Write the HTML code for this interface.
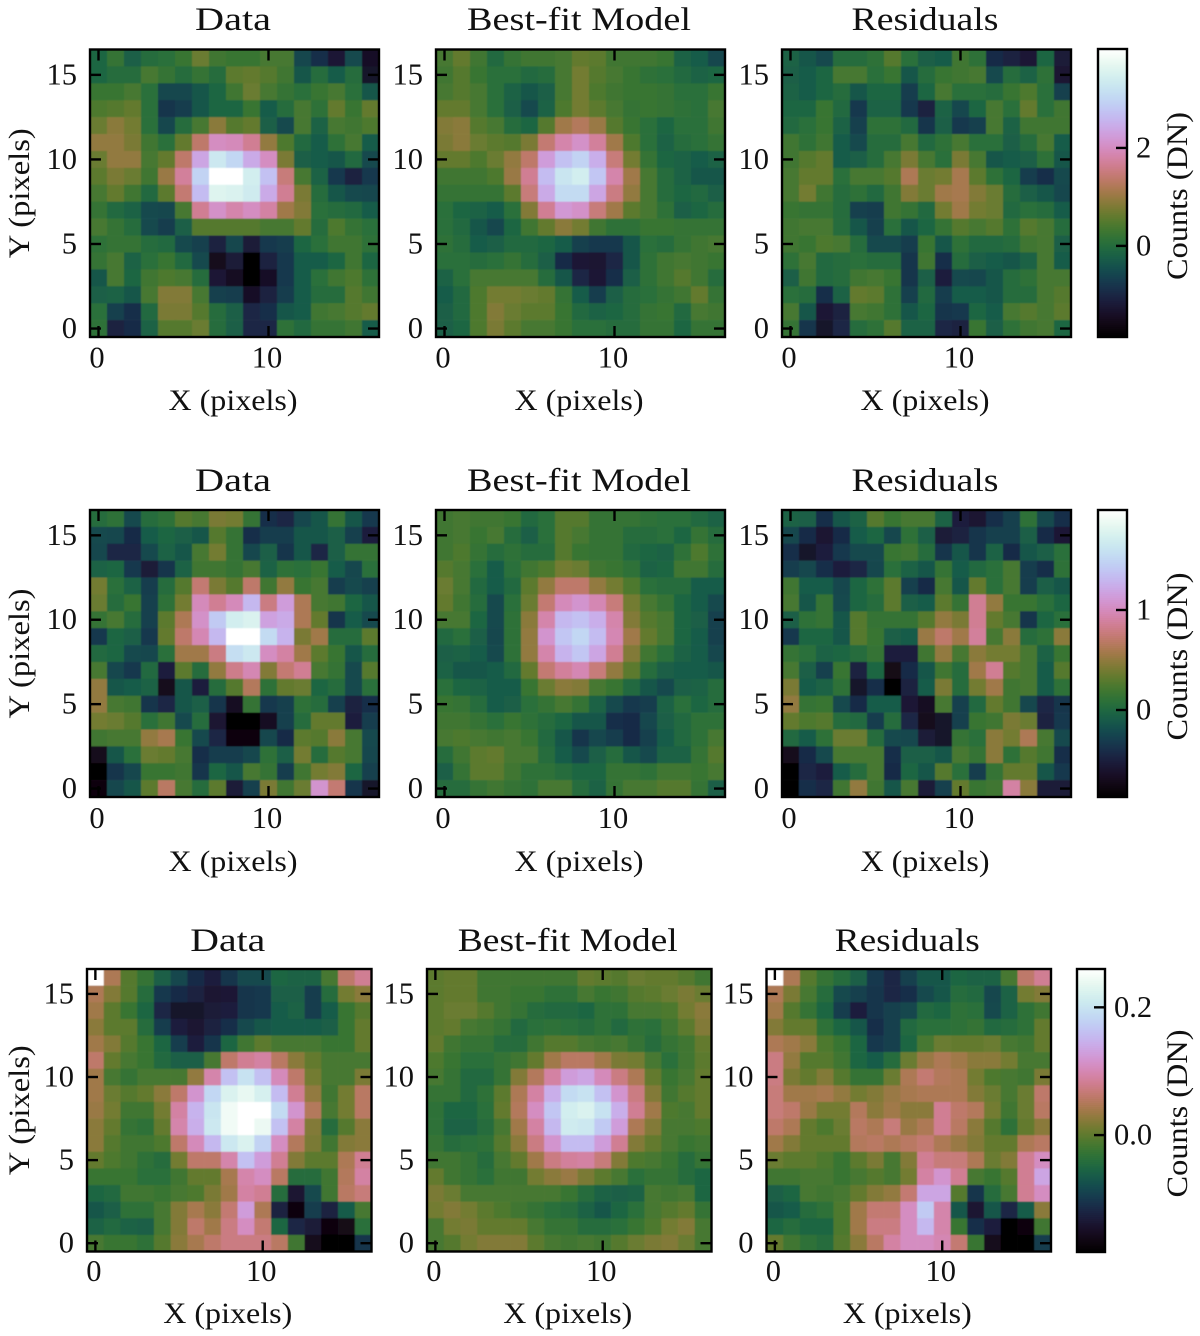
<!DOCTYPE html>
<html lang="en">
<head>
<meta charset="utf-8">
<title>Data, Best-fit Model and Residuals</title>
<style>
html,body{margin:0;padding:0;background:#fff;}
svg{display:block;}
text{font-family:"Liberation Serif",serif;fill:#111;}
</style>
</head>
<body>
<svg id="chart" xmlns="http://www.w3.org/2000/svg" width="1200" height="1336" viewBox="0 0 1200 1336">
<defs><filter id="soft" x="-2%" y="-2%" width="104%" height="104%"><feGaussianBlur stdDeviation="0.6"/></filter></defs>
</svg>
<script>
// Values are percent of the colour range of that row (0 = vmin, 100 = vmax). Rows are listed from y=16 down to y=0.
const dataRow1=[
[28,33,26,30,31,34,43,35,34,34,38,36,22,17,11,23,8],
[28,30,30,36,33,30,33,30,41,42,40,37,24,30,25,30,9],
[34,34,36,31,22,22,24,28,37,43,36,33,31,34,38,31,24],
[39,40,42,31,18,20,24,28,28,34,25,30,38,32,42,34,42],
[43,47,44,31,22,30,38,47,40,42,26,23,36,27,36,35,39],
[48,48,45,35,31,42,55,66,65,60,48,39,29,25,32,36,25],
[43,48,48,36,42,55,72,88,83,73,66,45,26,25,24,29,23],
[41,45,43,35,49,61,82,100,100,90,78,57,36,27,19,14,19],
[36,42,35,29,41,56,77,93,92,89,73,60,45,30,24,23,22],
[33,29,27,23,22,38,60,67,63,66,62,50,46,31,30,29,25],
[38,33,30,23,20,26,40,40,40,40,38,36,42,30,39,33,31],
[32,33,33,30,29,23,21,14,22,12,19,20,28,31,35,37,32],
[33,38,27,31,34,29,23,6,12,1,14,19,25,25,28,37,28],
[24,36,28,35,39,36,30,11,7,0,8,19,25,31,35,39,32],
[26,27,24,36,46,46,38,21,20,8,14,20,25,30,30,40,37],
[31,21,17,29,45,45,40,30,26,15,17,24,25,35,36,40,42],
[32,14,16,27,40,40,43,30,26,15,15,32,29,33,33,35,25]];
const modelRow1=[
[36,42,35,29,33,35,35,38,42,41,37,37,37,34,27,25,22],
[37,40,34,31,31,29,30,38,44,40,36,34,32,31,29,27,28],
[38,40,36,31,27,24,26,38,44,39,35,34,34,33,31,31,34],
[42,42,38,31,26,23,27,39,44,41,36,33,34,33,32,31,36],
[46,47,40,36,30,28,40,50,53,49,40,34,31,28,31,31,35],
[45,47,43,41,40,45,56,63,67,61,50,39,31,27,30,31,33],
[42,42,39,43,48,55,70,78,82,74,57,44,33,28,27,25,27],
[37,37,37,39,49,60,77,87,90,79,63,50,36,30,27,24,24],
[33,33,33,33,41,57,73,84,84,72,58,48,36,30,28,29,26],
[31,28,27,25,31,46,60,69,67,57,50,41,38,32,26,28,30],
[31,29,24,22,28,35,42,47,44,37,32,32,34,34,33,33,33],
[32,30,25,26,29,29,28,25,21,19,19,24,31,30,33,37,36],
[31,31,30,31,33,30,26,16,11,10,15,24,32,37,36,35,34],
[27,31,36,38,38,36,30,24,15,11,17,26,32,37,40,37,30],
[25,29,39,44,44,43,42,33,25,20,26,30,31,33,37,42,33],
[26,29,39,46,43,41,41,34,29,27,28,30,33,34,29,36,35],
[26,28,39,45,41,38,36,34,31,31,30,30,33,33,28,33,33]];
const residRow1=[
[27,24,23,30,30,32,40,31,26,25,35,32,16,14,11,28,12],
[26,25,28,36,36,31,34,24,30,34,35,36,23,30,27,32,10],
[27,25,28,30,24,28,28,20,28,36,31,31,30,34,39,31,21],
[28,28,34,29,19,27,27,19,14,27,22,28,36,31,42,31,37],
[29,31,34,27,21,32,32,29,18,26,19,21,36,27,37,37,37],
[35,32,35,25,23,30,30,36,29,32,36,31,31,26,30,36,25],
[35,40,42,25,26,30,36,45,36,31,45,38,24,25,26,32,24],
[36,42,42,31,36,36,40,52,43,44,51,41,32,28,20,17,23],
[36,44,37,30,32,29,37,46,43,50,51,46,43,30,26,24,22],
[34,33,33,30,21,20,35,33,29,44,50,44,43,29,31,30,25],
[37,36,36,30,24,21,31,24,28,33,40,38,40,32,40,36,30],
[35,34,39,36,30,23,23,20,34,24,32,29,29,30,37,36,26],
[32,38,29,30,31,30,30,18,35,17,30,26,25,24,27,36,25],
[26,37,29,30,35,36,34,18,26,13,23,22,24,30,32,38,36],
[31,30,17,27,42,41,32,21,29,20,25,25,24,30,30,36,40],
[36,24,11,14,36,37,32,24,28,18,19,28,25,36,40,36,41],
[33,18,9,15,30,32,40,27,27,15,14,34,26,32,37,36,28]];
const dataRow2=[
[30,32,23,30,32,40,38,45,44,33,17,15,22,24,33,24,19],
[23,22,16,25,28,26,24,40,33,17,20,20,24,24,26,21,13],
[22,15,15,23,27,24,36,44,33,22,26,18,24,15,26,33,33],
[27,28,19,12,18,27,37,37,33,38,27,32,31,34,25,22,31],
[44,31,27,20,30,40,56,45,40,55,37,48,34,38,20,23,21],
[43,30,34,21,32,44,65,60,65,76,58,70,52,38,35,28,24],
[33,36,30,21,41,52,67,80,90,92,71,73,52,42,18,25,23],
[19,28,26,19,42,55,64,76,100,100,84,75,45,50,30,30,41],
[29,28,23,22,31,50,50,58,85,88,66,62,50,41,34,24,30],
[38,22,19,29,13,41,30,48,59,64,46,56,60,38,33,23,40],
[48,24,25,27,6,24,13,30,40,53,32,42,43,28,30,23,31],
[48,36,35,18,15,24,26,18,7,33,19,21,32,30,21,14,17],
[44,43,40,31,35,23,30,10,0,1,7,21,30,42,42,13,20],
[35,36,38,48,51,34,23,15,2,2,22,16,41,40,47,36,23],
[6,24,31,43,42,38,17,20,20,22,32,26,44,30,40,38,22],
[0,18,22,34,34,37,18,28,24,38,33,20,35,44,46,28,21],
[3,22,24,41,54,36,30,41,12,21,45,37,43,68,56,18,9]];
const modelRow2=[
[35,36,35,35,34,29,31,40,40,33,33,33,32,31,31,29,27],
[37,36,34,36,30,26,31,40,36,33,33,30,30,31,28,33,30],
[37,39,33,30,32,30,30,40,34,33,33,29,28,27,32,39,32],
[40,38,31,25,31,35,39,44,43,37,34,32,27,28,35,35,30],
[43,38,29,25,29,41,48,55,55,48,44,39,31,30,30,25,25],
[42,37,30,23,31,43,56,65,68,64,57,44,36,33,28,25,23],
[38,36,28,23,32,47,63,76,78,74,63,46,40,36,28,26,21],
[29,31,26,22,32,48,68,79,83,77,64,50,42,36,28,25,21],
[26,27,25,23,32,48,63,75,79,72,60,46,37,31,27,25,22],
[27,24,24,25,29,42,56,61,64,57,48,41,30,26,25,25,24],
[31,28,27,25,25,34,43,47,46,38,34,29,24,23,26,27,30],
[34,33,30,25,26,31,33,36,33,27,23,19,20,27,31,28,30],
[35,37,33,31,34,32,30,28,24,24,17,16,22,26,29,32,32],
[36,39,36,37,38,34,29,24,18,22,20,16,21,25,29,32,36],
[30,37,41,42,38,36,30,25,23,26,30,24,23,27,27,33,40],
[26,33,41,41,35,32,32,30,28,28,33,33,32,35,35,34,36],
[30,30,33,37,33,32,36,38,30,27,33,36,38,40,40,33,26]];
const residRow2=[
[27,26,17,24,27,40,34,36,36,27,13,10,17,21,32,23,17],
[22,16,10,16,25,28,22,32,26,12,14,18,21,21,26,16,11],
[17,9,13,19,23,23,34,37,30,18,24,18,27,16,24,26,31],
[20,22,17,13,15,22,31,27,24,33,25,29,31,36,20,17,32],
[35,25,25,22,28,32,41,21,16,36,24,42,31,36,20,26,24],
[36,24,33,23,28,30,41,26,25,41,33,60,48,34,34,31,28],
[26,32,33,24,40,33,33,33,40,48,45,60,42,36,18,28,31],
[19,28,28,24,40,34,26,25,49,55,50,61,36,47,30,32,47],
[33,31,27,28,30,33,13,13,37,48,36,47,44,44,36,27,34],
[38,26,21,34,14,28,5,16,24,37,30,50,60,40,36,25,40],
[45,25,27,32,9,17,0,14,25,45,30,44,50,37,36,25,32],
[48,33,34,23,16,25,25,11,7,36,21,29,42,37,22,15,18],
[42,39,40,30,29,20,30,15,6,9,21,34,37,45,43,14,19],
[29,25,32,43,43,30,23,22,12,9,33,31,47,44,52,38,23],
[6,16,23,36,36,36,17,26,26,24,38,33,47,32,40,35,17],
[0,15,13,25,30,36,16,28,24,40,31,20,33,42,42,24,19],
[0,17,15,37,48,35,24,36,12,21,42,34,37,62,47,12,12]];
const dataRow3=[
[100,52,40,33,26,22,16,13,18,23,23,28,27,27,36,55,60],
[52,46,40,30,19,16,14,10,11,18,19,26,26,20,30,44,47],
[50,41,34,28,15,9,9,12,13,18,19,25,27,20,25,34,40],
[47,41,41,30,20,13,10,14,17,23,24,25,25,25,26,34,42],
[50,46,40,34,28,20,13,18,28,35,41,38,36,36,34,34,42],
[55,42,36,34,29,26,26,38,55,60,62,54,47,42,38,36,38],
[50,38,33,38,38,36,48,63,78,86,78,65,55,44,38,38,45],
[50,43,40,42,47,55,68,83,92,95,91,77,60,48,37,44,54],
[49,44,37,37,44,62,75,87,97,100,100,84,68,53,36,44,54],
[47,42,33,32,42,63,74,88,97,100,96,78,62,46,30,40,47],
[47,40,35,35,39,55,65,76,88,92,82,66,53,45,37,46,47],
[42,39,35,32,30,44,55,55,63,78,70,60,46,41,41,52,60],
[34,34,34,31,31,35,42,42,51,63,66,54,30,30,37,53,62],
[28,29,35,35,34,36,39,45,50,62,60,30,10,23,35,54,57],
[24,26,32,32,38,46,51,47,56,70,52,14,3,20,14,25,38],
[27,29,27,26,38,46,55,50,58,66,56,28,15,12,2,5,31],
[38,34,34,32,40,47,51,55,58,58,58,54,35,6,0,0,18]];
const modelRow3=[
[41,42,42,37,37,35,35,37,37,42,41,40,43,42,42,40,37],
[41,42,42,37,37,34,34,32,32,36,34,37,40,41,43,45,43],
[41,43,43,40,37,33,30,29,29,28,32,32,36,38,39,44,47],
[41,42,38,37,33,29,31,32,31,30,32,29,32,31,35,41,46],
[42,35,33,33,30,30,37,40,40,38,37,36,33,30,33,37,42],
[39,34,31,31,33,37,42,50,54,54,50,45,44,36,31,37,41],
[36,33,29,29,33,46,53,62,70,72,65,58,52,42,34,38,42],
[33,33,29,32,41,52,62,74,84,86,78,68,58,46,37,40,42],
[32,28,28,31,42,53,66,79,90,92,86,74,60,50,39,38,42],
[32,27,27,30,38,50,62,76,89,88,80,70,52,46,38,38,39],
[33,30,31,32,40,47,58,68,77,77,70,60,46,42,38,34,35],
[37,35,33,30,36,42,50,58,61,62,57,46,39,38,34,30,33],
[42,37,33,31,35,37,44,47,49,45,41,36,31,33,33,30,28],
[45,43,38,36,36,36,36,36,34,30,27,26,27,36,37,36,28],
[44,46,44,41,39,37,33,31,30,27,24,28,31,36,40,42,33],
[38,44,45,42,42,42,36,33,33,30,30,31,34,39,44,46,36],
[38,40,44,46,46,46,41,36,37,38,37,40,43,45,46,43,36]];
const residRow3=[
[100,52,40,33,30,26,19,15,21,24,24,28,27,27,36,55,60],
[52,45,38,30,23,21,18,15,17,23,24,30,29,22,27,44,46],
[50,40,33,28,20,13,18,21,22,29,28,32,31,23,27,32,37],
[46,42,42,32,28,24,17,21,29,31,31,32,33,29,30,32,42],
[52,50,47,39,34,28,19,21,28,38,43,42,42,43,38,37,42],
[58,48,40,40,35,28,25,30,43,49,52,50,47,47,44,38,38],
[58,45,42,46,40,33,33,43,52,56,53,52,44,39,38,37,45],
[57,50,50,51,48,44,46,49,51,52,52,52,46,43,38,43,55],
[57,55,49,44,44,53,47,50,47,47,60,55,53,44,37,43,54],
[55,52,42,39,43,54,52,57,49,52,60,54,47,40,32,42,47],
[50,46,42,42,42,53,54,52,54,56,52,49,46,42,42,52,54],
[43,41,41,39,34,41,45,38,46,60,57,57,52,43,46,60,66],
[35,35,38,36,34,36,40,36,44,62,68,60,36,34,40,60,72],
[26,28,36,37,38,42,46,48,56,72,72,40,18,30,38,60,66],
[24,25,30,32,39,50,56,56,66,80,63,24,10,24,15,25,47],
[28,30,28,28,39,50,58,58,66,76,63,34,17,13,0,3,35],
[42,35,32,30,40,47,54,62,66,66,64,56,34,6,0,0,20]];
const xTickValues=[0,10];
const yTickValues=[0,5,10,15];
const panelTitles=["Data","Best-fit Model","Residuals"];
const colourRangeRow1=[-1.86,4.02];
const colourRangeRow2=[-0.87,2.0];
const colourRangeRow3=[-0.183,0.26];
const colourTicksRow1=[0,2];
const colourTicksRow2=[0,1];
const colourTicksRow3=[0.0,0.2];
const colourTickLabelsRow1=["0","2"];
const colourTickLabelsRow2=["0","1"];
const colourTickLabelsRow3=["0.0","0.2"];

const layout=[
 {top:49.5,bottom:337,lefts:[90,436,782],w:289,titleY:30,tickY:367.5,labelY:410,
  cb:[1098,1127],cbTop:49,cbBottom:337,range:colourRangeRow1,ticks:colourTicksRow1,tickLabels:colourTickLabelsRow1,
  grids:[dataRow1,modelRow1,residRow1],widths:[76,224,147],cbLabelX:1187},
 {top:510,bottom:797,lefts:[90,436,782],w:289,titleY:491,tickY:828,labelY:871,
  cb:[1098,1127],cbTop:510,cbBottom:797,range:colourRangeRow2,ticks:colourTicksRow2,tickLabels:colourTickLabelsRow2,
  grids:[dataRow2,modelRow2,residRow2],widths:[76,224,147],cbLabelX:1187},
 {top:969,bottom:1251.5,lefts:[87,427,766.5],w:284.5,titleY:951,tickY:1281,labelY:1323,
  cb:[1077,1105],cbTop:969,cbBottom:1252,range:colourRangeRow3,ticks:colourTicksRow3,tickLabels:colourTickLabelsRow3,
  grids:[dataRow3,modelRow3,residRow3],widths:[75,220,145],cbLabelX:1187}
];

const svg=document.getElementById('chart');
const NS='http://www.w3.org/2000/svg';
function add(parent,tag,attrs,txt){
  const el=document.createElementNS(NS,tag);
  for(const k in attrs){el.setAttribute(k,attrs[k]);}
  if(txt!==undefined){el.textContent=txt;}
  parent.appendChild(el);
  return el;
}
// matplotlib "cubehelix" colormap
function cubehelix(t){
  const a=0.5*t*(1-t);
  const phi=2*Math.PI*(0.5/3-1.5*t);
  const c=Math.cos(phi),s=Math.sin(phi);
  const r=t+a*(-0.14861*c+1.78277*s);
  const g=t+a*(-0.29227*c-0.90649*s);
  const b=t+a*(1.97294*c);
  const f=v=>Math.round(255*Math.min(1,Math.max(0,v)));
  return 'rgb('+f(r)+','+f(g)+','+f(b)+')';
}
// small calibration of the by-eye dark-green levels
function cellColour(val){
  const level=(val>=24&&val<=36)?val+2:val;
  return cubehelix(level/100);
}
const tickLen=11;
const lineW=2.4;
layout.forEach(function(row,ri){
  const h=row.bottom-row.top;
  const xScale=(left,v)=>left+(v+0.5)/17*row.w;
  const yScale=v=>row.bottom-(v+0.5)/17*h;
  row.grids.forEach(function(grid,pi){
    const left=row.lefts[pi];
    const cx=left+row.w/2-1.5;
    const g=add(svg,'g',{});
    
    
    const clipId='clip'+ri+pi;
    const cp=add(g,'clipPath',{id:clipId});
    add(cp,'rect',{x:left,y:row.top,width:row.w,height:h});
    const outer=add(g,'g',{'clip-path':'url(#'+clipId+')'});
    const cells=add(outer,'g',{filter:'url(#soft)'});
    
    
    grid.forEach(function(vals,r){
      const yVal=16-r;
      vals.forEach(function(val,x){
        const x0=xScale(left,x-0.5),x1=xScale(left,x+0.5);
        const y0=yScale(yVal+0.5),y1=yScale(yVal-0.5);
        const cell=add(cells,'rect',{x:x0.toFixed(2),y:y0.toFixed(2),width:(x1-x0+0.3).toFixed(2),height:(y1-y0+0.3).toFixed(2),fill:cellColour(val)});
        
        
      });
    });
    // ticks
    xTickValues.forEach(function(v){
      const px=xScale(left,v);
      const t1=add(g,'line',{x1:px,x2:px,y1:row.bottom,y2:row.bottom-tickLen,stroke:'#000','stroke-width':lineW});
      
      
      const t2=add(g,'line',{x1:px,x2:px,y1:row.top,y2:row.top+tickLen,stroke:'#000','stroke-width':lineW});
      
      
      const lab=add(g,'text',{x:px-1.5,y:row.tickY,'text-anchor':'middle','font-size':30.5},String(v));
      
      
    });
    yTickValues.forEach(function(v){
      const py=yScale(v);
      const t1=add(g,'line',{x1:left,x2:left+tickLen,y1:py,y2:py,stroke:'#000','stroke-width':lineW});
      
      
      const t2=add(g,'line',{x1:left+row.w,x2:left+row.w-tickLen,y1:py,y2:py,stroke:'#000','stroke-width':lineW});
      
      
      const lab=add(g,'text',{x:left-13,y:py+9.5,'text-anchor':'end','font-size':30.5},String(v));
      
      
    });
    const frame=add(g,'rect',{x:left,y:row.top,width:row.w,height:h,fill:'none',stroke:'#000','stroke-width':lineW});
    
    
    const title=add(g,'text',{x:cx,y:row.titleY,'text-anchor':'middle','font-size':33,textLength:row.widths[pi],lengthAdjust:'spacingAndGlyphs'},panelTitles[pi]);
    
    
    const xl=add(g,'text',{x:cx,y:row.labelY,'text-anchor':'middle','font-size':30,textLength:129,lengthAdjust:'spacingAndGlyphs'},'X (pixels)');
    
    
    if(pi===0){
      const cy=(row.top+row.bottom)/2;
      const yl=add(g,'text',{x:0,y:0,transform:'translate(29,'+(cy)+') rotate(-90)','text-anchor':'middle','font-size':30,textLength:130,lengthAdjust:'spacingAndGlyphs'},'Y (pixels)');
      
      
    }
  });
  // colourbar
  const cg=add(svg,'g',{});
  
  
  const cbH=row.cbBottom-row.cbTop, cbW=row.cb[1]-row.cb[0], steps=144;
  for(let i=0;i<steps;i++){
    const y0=row.cbBottom-(i+1)/steps*cbH;
    const seg=add(cg,'rect',{x:row.cb[0],y:y0.toFixed(2),width:cbW,height:(cbH/steps+0.4).toFixed(2),fill:cubehelix((i+0.5)/steps)});
    
    
  }
  const cScale=v=>row.cbBottom-(v-row.range[0])/(row.range[1]-row.range[0])*cbH;
  row.ticks.forEach(function(v,i){
    const py=cScale(v);
    const tk=add(cg,'line',{x1:row.cb[1],x2:row.cb[1]-11,y1:py,y2:py,stroke:'#000','stroke-width':lineW});
    
    
    const lb=add(cg,'text',{x:row.cb[1]+9,y:py+9.5,'font-size':30.5},row.tickLabels[i]);
    
    
  });
  const cf=add(cg,'rect',{x:row.cb[0],y:row.cbTop,width:cbW,height:cbH,fill:'none',stroke:'#000','stroke-width':lineW});
  
  
  const ct=add(cg,'text',{x:0,y:0,transform:'translate('+row.cbLabelX+','+((row.cbTop+row.cbBottom)/2+3)+') rotate(-90)','text-anchor':'middle','font-size':30,textLength:168,lengthAdjust:'spacingAndGlyphs'},'Counts (DN)');
  
  
});
</script>
</body>
</html>
